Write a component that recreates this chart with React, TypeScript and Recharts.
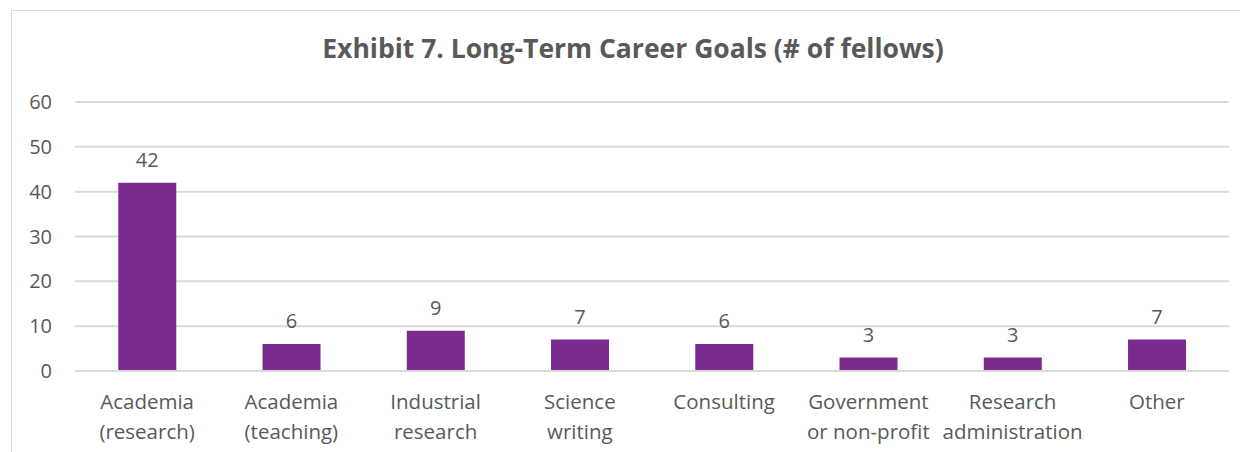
import { BarChart, Bar, XAxis, YAxis, CartesianGrid, LabelList } from 'recharts'

const categories = [
  'Academia\n(research)',
  'Academia\n(teaching)',
  'Industrial\nresearch',
  'Science\nwriting',
  'Consulting',
  'Government\nor non-profit',
  'Research\nadministration',
  'Other',
]
const fellows = [42, 6, 9, 7, 6, 3, 3, 7]
const yTicks = [0, 10, 20, 30, 40, 50, 60]

const data = categories.map((c, i) => ({ label: c, value: fellows[i] }))

const FONT = '"Open Sans", Lato, sans-serif'
const TEXT = '#595959'
const PURPLE = '#7B2A8F'
const GRID = '#d9d9d9'

function CategoryTick({ x, y, payload }: any) {
  const lines = String(payload.value).split('\n')
  return (
    <text x={x} y={y} textAnchor="middle" fill={TEXT} fontSize={20.5} fontFamily={FONT}>
      {lines.map((ln, i) => (
        <tspan key={i} x={x} dy={i === 0 ? 30 : 30}>{ln}</tspan>
      ))}
    </text>
  )
}

export default function App() {
  return (
    <div style={{ position: 'relative', marginTop: 2, marginLeft: 3, width: 1242, height: 450, border: `1px solid ${GRID}` }}>
      <div style={{
        position: 'absolute', top: 19, left: 0, width: 1242, textAlign: 'center',
        fontFamily: FONT, fontWeight: 700, fontSize: 26.5, color: TEXT,
      }}>
        Exhibit 7. Long-Term Career Goals (# of fellows)
      </div>
      <BarChart width={1242} height={450} data={data} margin={{ top: 91, right: 25, left: 10, bottom: 30 }} barCategoryGap="30%">
        <CartesianGrid vertical={false} stroke={GRID} strokeWidth={2} />
        <XAxis dataKey="label" axisLine={{ stroke: GRID, strokeWidth: 2 }} tickLine={false} height={60} tick={<CategoryTick />} interval={0} />
        <YAxis domain={[0, 60]} ticks={yTicks} axisLine={false} tickLine={false} width={53}
          tick={{ fontSize: 20, fill: TEXT, fontFamily: FONT }} tickMargin={17} />
        <Bar dataKey="value" fill={PURPLE} isAnimationActive={false}>
          <LabelList dataKey="value" position="top" offset={16} fill={TEXT} fontSize={20} fontFamily={FONT} />
        </Bar>
      </BarChart>
    </div>
  )
}
